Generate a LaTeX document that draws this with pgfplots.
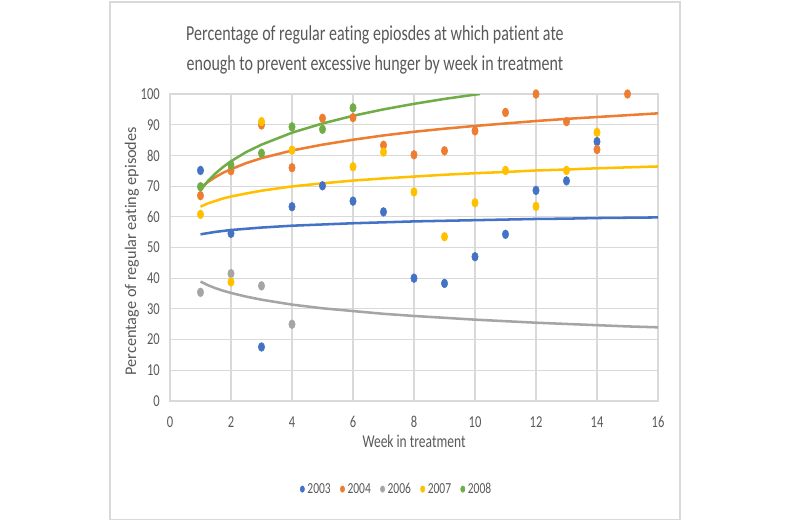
\documentclass[border=0pt]{standalone}
\usepackage{fontspec}
\setmainfont[FakeStretch=0.75, Ligatures={NoCommon}]{Carlito}
\newfontfamily\ylabfont[Ligatures={NoCommon}]{Carlito}
\usepackage{pgfplots}
\pgfplotsset{compat=1.18}
\definecolor{c03}{HTML}{4472C4}
\definecolor{c04}{HTML}{ED7D31}
\definecolor{c06}{HTML}{A5A5A5}
\definecolor{c07}{HTML}{FFC000}
\definecolor{c08}{HTML}{70AD47}
\definecolor{txt}{HTML}{595959}
\definecolor{grd}{HTML}{D9D9D9}
\begin{document}
\begin{tikzpicture}
\path[use as bounding box] (0,0) rectangle (600pt,-390.75pt);
\draw[grd, line width=0.8pt] (82.5pt,-1.5pt) rectangle (510pt,-389.5pt);
\begin{axis}[
  at={(127.5pt,-300.75pt)}, anchor=south west,
  scale only axis, width=366pt, height=230.25pt,
  xmin=0, xmax=16, ymin=0, ymax=100,
  xtick={0,2,...,16}, ytick={0,10,...,100},
  grid=major, major grid style={grd, line width=0.8pt},
  axis line style={grd, line width=0.8pt},
  tick style={draw=none},
  clip mode=individual,
  /pgf/number format/assume math mode=true,
  ticklabel style={font=\fontsize{12.5}{14}\selectfont, text=txt},
  xticklabel style={anchor=center, yshift=-15.75pt},
  yticklabel style={anchor=east, inner sep=0pt, xshift=-7.5pt},
  title={Percentage of regular eating epiosdes at which patient ate\\enough to prevent excessive hunger by week in treatment},
  title style={at={(axis description cs:0.420,1.118)}, anchor=center, align=center, text=txt, font=\fontsize{16}{22.5}\selectfont},
  xlabel={Week in treatment},
  xlabel style={at={(axis description cs:0.5,-0.130)}, anchor=center, text=txt, font=\fontsize{13.5}{15}\selectfont},
  ylabel={Percentage of regular eating episodes},
  ylabel style={at={(axis description cs:-0.078,0.488)}, anchor=center, rotate=0, text=txt, font=\ylabfont\fontsize{12.2}{14}\selectfont},
  legend columns=-1,
  legend style={at={(axis description cs:0.465,-0.287)}, anchor=center, draw=none, fill=none,
    font=\fontsize{11.5}{13}\selectfont, text=txt,
    /tikz/every even column/.append style={column sep=5pt}},
  legend image code/.code={\fill[#1] (0.1cm,0) ellipse (1.6pt and 2.4pt);},
]
% trendlines
\addplot[c03, line width=1.9pt, forget plot] coordinates {(1,54.3)(1.25,54.7)(1.5,55.1)(1.75,55.4)(2,55.7)(2.5,56.1)(3,56.5)(4,57.1)(5,57.5)(6,57.9)(7,58.2)(8,58.5)(9,58.7)(10,58.9)(11,59.1)(12,59.3)(13,59.4)(14,59.6)(15,59.7)(16,59.8)};
\addplot[c04, line width=1.9pt, forget plot] coordinates {(1,69.5)(1.25,71.4)(1.5,73.0)(1.75,74.4)(2,75.5)(2.5,77.5)(3,79.1)(4,81.6)(5,83.5)(6,85.1)(7,86.5)(8,87.7)(9,88.7)(10,89.6)(11,90.4)(12,91.2)(13,91.9)(14,92.5)(15,93.1)(16,93.7)};
\addplot[c06, line width=1.9pt, forget plot] coordinates {(1,38.9)(1.25,37.7)(1.5,36.7)(1.75,35.9)(2,35.2)(2.5,34.0)(3,33.0)(4,31.4)(5,30.2)(6,29.3)(7,28.4)(8,27.7)(9,27.1)(10,26.5)(11,26.0)(12,25.5)(13,25.1)(14,24.7)(15,24.3)(16,24.0)};
\addplot[c07, line width=1.9pt, forget plot] coordinates {(1,63.3)(1.25,64.4)(1.5,65.2)(1.75,66.0)(2,66.6)(2.5,67.6)(3,68.5)(4,69.9)(5,70.9)(6,71.8)(7,72.5)(8,73.1)(9,73.7)(10,74.2)(11,74.6)(12,75.1)(13,75.4)(14,75.8)(15,76.1)(16,76.4)};
\addplot[c08, line width=1.9pt, forget plot] coordinates {(1,68.7)(1.25,71.7)(1.5,74.2)(1.75,76.3)(2,78.1)(2.5,81.1)(3,83.5)(4,87.4)(5,90.4)(6,92.9)(7,95.0)(8,96.8)(9,98.4)(10,99.8)(10.16,100)};
% points
\addplot[only marks, mark=*, mark size=3.3pt, mark options={xscale=0.72, draw=none, fill=c03}, c03] coordinates {(1,75.1)(2,54.6)(3,17.6)(4,63.3)(5,70.1)(6,65.1)(7,61.6)(8,40.0)(9,38.3)(10,47.0)(11,54.3)(12,68.6)(13,71.7)(14,84.5)};
\addplot[only marks, mark=*, mark size=3.3pt, mark options={xscale=0.72, draw=none, fill=c04}, c04] coordinates {(1,66.9)(2,75.0)(3,89.9)(4,76.0)(5,92.1)(6,92.3)(7,83.3)(8,80.2)(9,81.5)(10,88.0)(11,94.0)(12,100)(13,91.0)(14,81.9)(15,100)};
\addplot[only marks, mark=*, mark size=3.3pt, mark options={xscale=0.72, draw=none, fill=c06}, c06] coordinates {(1,35.4)(2,41.5)(3,37.5)(4,25.0)};
\addplot[only marks, mark=*, mark size=3.3pt, mark options={xscale=0.72, draw=none, fill=c07}, c07] coordinates {(1,60.8)(2,38.8)(3,91.0)(4,81.7)(6,76.3)(7,81.1)(8,68.1)(9,53.5)(10,64.6)(11,75.1)(12,63.4)(13,75.1)(14,87.5)};
\addplot[only marks, mark=*, mark size=3.3pt, mark options={xscale=0.72, draw=none, fill=c08}, c08] coordinates {(1,69.8)(2,76.9)(3,80.7)(4,89.3)(5,88.5)(6,95.5)};
\legend{2003,2004,2006,2007,2008}
\end{axis}
\end{tikzpicture}
\end{document}
